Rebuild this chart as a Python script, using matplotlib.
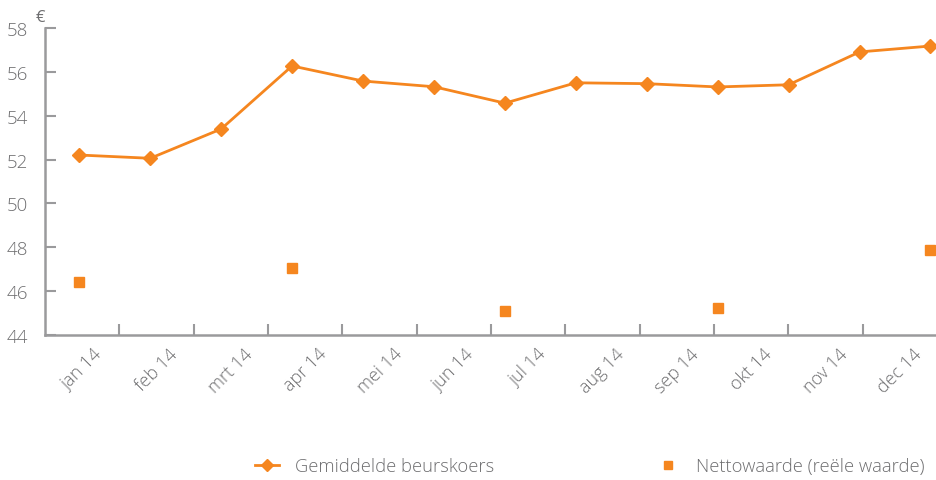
import matplotlib
matplotlib.use("Agg")
import matplotlib.pyplot as plt
from matplotlib.lines import Line2D

# ---- data ----
month_labels = ["jan 14", "feb 14", "mrt 14", "apr 14", "mei 14", "jun 14",
                "jul 14", "aug 14", "sep 14", "okt 14", "nov 14", "dec 14"]
point_index = list(range(13))
beurskoers = [52.21, 52.06, 53.40, 56.28, 55.59, 55.33, 54.58,
              55.51, 55.47, 55.32, 55.42, 56.92, 57.19]
netto_index = [0, 3, 6, 9, 12]
nettowaarde = [46.39, 47.07, 45.10, 45.20, 47.85]
y_ticks = [44, 46, 48, 50, 52, 54, 56, 58]

ORANGE = "#F5861F"
GREY = "#9A9A9C"
TXT = "#6E6E70"

plt.rcParams['font.family'] = ['Open Sans', 'DejaVu Sans']

fig = plt.figure(figsize=(9.36, 4.81), dpi=100)
ax = fig.add_axes([45/936, 1-335.7/481, 892/936, (335.7-29.3)/481])

# category axis (labels)
n = len(month_labels)
ax.set_xlim(0, n)
ax.set_ylim(44, 58)
ax.set_xticks(range(1, n))
ax.set_xticklabels([])
ax.set_xticks([i + 0.5 for i in range(n)], minor=True)
ax.set_xticklabels(month_labels, minor=True, rotation=45, ha='center',
                   va='top', fontsize=13, color=TXT, fontweight='light')
ax.tick_params(axis='x', which='major', direction='in', length=8, width=1.5, color=GREY)
ax.tick_params(axis='x', which='minor', length=0, pad=7)
ax.set_yticks(y_ticks)
ax.set_yticklabels([str(v) for v in y_ticks], fontsize=13.5, color=TXT, fontweight='light')
ax.tick_params(axis='y', direction='in', length=8, width=1.5, color=GREY, pad=12)
for s in ['top', 'right']:
    ax.spines[s].set_visible(False)
for s in ['left', 'bottom']:
    ax.spines[s].set_color(GREY)
    ax.spines[s].set_linewidth(1.8)
ax.text(-0.0, 1.01, "€", transform=ax.transAxes, ha='right', va='bottom',
        fontsize=12, color=TXT)

# point axis (data)
ax2 = ax.twiny()
px_per = (930.5 - 79.3) / 12
left = -(79.3 - 45) / px_per
right = 12 + (937 - 930.5) / px_per
ax2.set_xlim(left, right)
ax2.set_ylim(44, 58)
ax2.axis('off')
ax2.plot(point_index, beurskoers, color=ORANGE, lw=2.0, marker='D',
         markersize=7, clip_on=False, zorder=3)
ax2.plot(netto_index, nettowaarde, ls='none', marker='s', color=ORANGE,
         markersize=6.5, clip_on=False, zorder=3)

handles = [Line2D([], [], color=ORANGE, lw=2.0, marker='D', markersize=6),
           Line2D([], [], color=ORANGE, ls='none', marker='s', markersize=6)]
fig.legend(handles, ["Gemiddelde beurskoers", "Nettowaarde (reële waarde)"],
           loc='center', bbox_to_anchor=(590/936, 1-467/481), ncol=2,
           frameon=False, handlelength=1.3, handletextpad=0.9,
           columnspacing=8.8, prop={'size': 13.2, 'weight': 'light'},
           labelcolor=TXT)

fig.savefig("out.png", dpi=100)
